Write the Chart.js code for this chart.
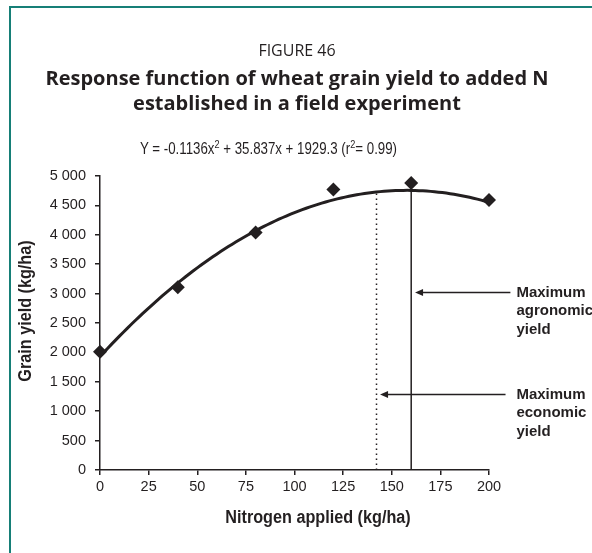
<!DOCTYPE html>
<html>
<head>
<meta charset="utf-8">
<script src="https://cdn.jsdelivr.net/npm/chart.js@4.4.1/dist/chart.umd.min.js"></script>
<style>
  body { margin: 0; background: #fff; }
  #wrap { position: relative; width: 592px; height: 553px; overflow: hidden; color: #231f20; font-family: 'Open Sans', 'Noto Sans', sans-serif; }
  #frame { position: absolute; left: 9px; top: 6px; right: -10px; bottom: -10px; border-top: 2px solid #167f77; border-left: 2px solid #167f77; }
  canvas { position: absolute; left: 0; top: 0; }
  .txt { position: absolute; white-space: nowrap; }
  #fig { left: 0; width: 594px; top: 39px; text-align: center; font-size: 16px; line-height: 22px; }
  #title { left: 0; width: 594px; top: 65px; text-align: center; font-size: 20px; font-weight: bold; line-height: 25px; }
  #eq { left: 140px; top: 139px; font-family: 'Liberation Sans', Arial, sans-serif; font-size: 16px; line-height: 20px; transform: scaleX(0.83); transform-origin: left center; }
  #eq sup { font-size: 11px; vertical-align: 6px; line-height: 0; }
  .axt { font-family: 'Liberation Sans', Arial, sans-serif; font-weight: bold; font-size: 18px; line-height: 22px; text-align: center; }
  #xTitle { left: 168px; width: 300px; top: 506px; transform: scaleX(0.9); }
  #yTitle { left: -75px; width: 200px; top: 300px; transform: rotate(-90deg) scaleX(0.9); }
</style>
</head>
<body>
<div id="wrap">
  <div id="frame"></div>
  <canvas id="myChart" width="592" height="553"></canvas>
  <div class="txt" id="fig">FIGURE 46</div>
  <div class="txt" id="title">Response function of wheat grain yield to added N<br>established in a field experiment</div>
  <div class="txt" id="eq">Y = -0.1136x<sup>2</sup> + 35.837x + 1929.3 (r<sup>2</sup>= 0.99)</div>
  <div class="txt axt" id="xTitle">Nitrogen applied (kg/ha)</div>
  <div class="txt axt" id="yTitle">Grain yield (kg/ha)</div>
</div>
<script>
// field trial: N rate (kg/ha) and measured grain yield (kg/ha)
const nApplied = [0, 40, 80, 120, 160, 200];
const grainYield = [2010, 3110, 4040, 4770, 4880, 4590];

// fitted response Y = a*x^2 + b*x + c
const fitCoef = [-0.1136, 35.837, 1929.3];

const xTicks = [0, 25, 50, 75, 100, 125, 150, 175, 200];
const yTicks = [0, 500, 1000, 1500, 2000, 2500, 3000, 3500, 4000, 4500, 5000];

// N rates for the two optimum markers
const agronomicN = 160;
const economicN = 142;

const INK = "#231f20";
const SANS = "'Liberation Sans', Arial, sans-serif";

function fitted(n) {
  return fitCoef[0] * n * n + fitCoef[1] * n + fitCoef[2];
}

const curve = [];
for (let n = xTicks[0]; n <= xTicks[xTicks.length - 1]; n += 2) {
  curve.push({ x: n, y: fitted(n) });
}

const observed = nApplied.map((n, i) => ({ x: n, y: grainYield[i] }));

// spaced thousands, e.g. 4 500
function spaced(v) {
  return String(v).replace(/\B(?=(\d{3})+(?!\d))/g, " ");
}

// marker lines, arrows and their labels
const guides = {
  id: "guides",
  beforeDatasetsDraw(chart) {
    const { ctx } = chart;
    const x = chart.scales.x;
    const y = chart.scales.y;
    ctx.save();
    ctx.strokeStyle = INK;
    ctx.lineWidth = 1.5;

    let px = x.getPixelForValue(agronomicN);
    ctx.beginPath();
    ctx.moveTo(px, y.getPixelForValue(0));
    ctx.lineTo(px, y.getPixelForValue(fitted(agronomicN)));
    ctx.stroke();

    px = Math.round(x.getPixelForValue(economicN)) + 0.5;
    ctx.setLineDash([1.5, 3.5]);
    ctx.beginPath();
    ctx.moveTo(px, y.getPixelForValue(0));
    ctx.lineTo(px, y.getPixelForValue(fitted(economicN)));
    ctx.stroke();
    ctx.restore();
  },
  afterDraw(chart) {
    const { ctx } = chart;
    const x = chart.scales.x;
    const y = chart.scales.y;
    const notes = [
      { at: 3030, head: 162, tail: 211, text: ["Maximum", "agronomic", "yield"] },
      { at: 1290, head: 144, tail: 208.5, text: ["Maximum", "economic", "yield"] },
    ];
    const textX = x.getPixelForValue(211) + 6;
    ctx.save();
    ctx.strokeStyle = INK;
    ctx.fillStyle = INK;
    ctx.lineWidth = 1.5;
    notes.forEach((a) => {
      const py = Math.round(y.getPixelForValue(a.at)) + 0.5;
      const hx = x.getPixelForValue(a.head);
      const tx = x.getPixelForValue(a.tail);
      ctx.beginPath();
      ctx.moveTo(hx + 6, py);
      ctx.lineTo(tx, py);
      ctx.stroke();
      ctx.beginPath();
      ctx.moveTo(hx, py);
      ctx.lineTo(hx + 8, py - 3.5);
      ctx.lineTo(hx + 8, py + 3.5);
      ctx.closePath();
      ctx.fill();

      ctx.font = "bold 15px " + SANS;
      ctx.textAlign = "left";
      ctx.textBaseline = "middle";
      a.text.forEach((line, i) => {
        ctx.fillText(line, textX, py + i * 18.5);
      });
    });
    ctx.restore();
  },
};

const axisLook = {
  grid: { display: true, drawOnChartArea: false, drawTicks: true, tickLength: 5, color: INK, lineWidth: 1.5 },
  border: { display: true, color: INK, width: 1.5 },
};

new Chart(document.getElementById("myChart"), {
  type: "scatter",
  data: {
    datasets: [
      {
        label: "Observed",
        data: observed,
        pointStyle: "rectRot",
        pointRadius: 7,
        backgroundColor: INK,
        borderColor: INK,
        borderWidth: 0,
        clip: false,
      },
      {
        label: "Fitted",
        type: "line",
        data: curve,
        borderColor: INK,
        borderWidth: 3,
        pointRadius: 0,
        tension: 0,
        clip: false,
      },
    ],
  },
  options: {
    responsive: false,
    animation: false,
    events: [],
    layout: { padding: { left: 40, right: 103, top: 176, bottom: 53 } },
    plugins: {
      legend: { display: false },
      tooltip: { enabled: false },
    },
    scales: {
      x: {
        type: "linear",
        min: 0,
        max: 200,
        ...axisLook,
        afterBuildTicks: (s) => { s.ticks = xTicks.map((v) => ({ value: v })); },
        afterFit: (s) => { s.height = 30; },
        ticks: { color: INK, padding: 3, maxRotation: 0, font: { family: SANS, size: 14.5 } },
      },
      y: {
        type: "linear",
        min: 0,
        max: 5000,
        ...axisLook,
        afterBuildTicks: (s) => { s.ticks = yTicks.map((v) => ({ value: v })); },
        afterFit: (s) => { s.width = 60; },
        ticks: { color: INK, padding: 9, callback: (v) => spaced(v), font: { family: SANS, size: 14.5 } },
      },
    },
  },
  plugins: [guides],
});
</script>
</body>
</html>
